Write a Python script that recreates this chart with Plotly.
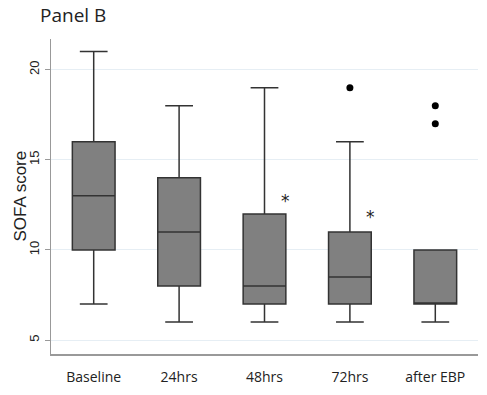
import plotly.graph_objects as go

categories = ["Baseline", "24hrs", "48hrs", "72hrs", "after EBP"]
lower_whisker = [7, 6, 6, 6, 6]
q1 = [10, 8, 7, 7, 7]
median = [13, 11, 8, 8.5, 7]
q3 = [16, 14, 12, 11, 10]
upper_whisker = [21, 18, 19, 16, 10]

outlier_x = ["72hrs", "after EBP", "after EBP"]
outlier_y = [19, 18, 17]

sig_x = ["48hrs", "72hrs"]
sig_y = [12.96, 12.04]
sig_text = ["*", "*"]

y_ticks = [5, 10, 15, 20]

fig = go.Figure()
fig.add_trace(go.Box(
    x=categories, q1=q1, median=median, q3=q3,
    lowerfence=lower_whisker, upperfence=upper_whisker,
    boxpoints=False, width=0.5, whiskerwidth=0.65,
    fillcolor="#808080", line=dict(color="#333333", width=1.5),
    showlegend=False, hoverinfo="skip",
))
fig.add_trace(go.Scatter(
    x=outlier_x, y=outlier_y, mode="markers",
    marker=dict(color="black", size=7), showlegend=False,
    hoverinfo="skip",
))
for sx, sy, st in zip(sig_x, sig_y, sig_text):
    fig.add_annotation(
        x=sx, y=sy, text=st, showarrow=False,
        xanchor="center", yanchor="middle", xshift=21, yshift=-4,
        font=dict(size=17, family="DejaVu Sans", color="#222222"),
    )

fig.add_annotation(
    text="SOFA score", textangle=-90, showarrow=False,
    xref="paper", yref="paper", x=(20 - 51) / 427, y=0.5,
    xanchor="center", yanchor="middle",
    font=dict(size=17, family="Liberation Sans", color="#222222"),
)

fig.update_layout(
    width=487, height=395,
    margin=dict(l=51, r=9, t=39, b=37),
    paper_bgcolor="white", plot_bgcolor="white",
    title=dict(text="Panel B", x=40/487, xref="container", xanchor="left",
               y=1 - 9/395, yref="container", yanchor="top",
               font=dict(size=19, family="Open Sans", color="#222222")),
)
fig.update_xaxes(
    type="category", range=[-0.5, 4.5],
    showline=True, linecolor="#999999", linewidth=1.5,
    showgrid=False, ticks="", mirror=False,
    tickfont=dict(size=14, family="Open Sans", color="#222222"),
    ticklabelstandoff=10,
)
fig.update_yaxes(
    range=[4.23, 21.7], tickvals=y_ticks, tickangle=-90,
    showline=True, linecolor="#999999", linewidth=1.5,
    showgrid=True, gridcolor="#e6eef4", gridwidth=1,
    ticks="outside", ticklen=5, tickcolor="#999999",
    zeroline=False, automargin=False,
    tickfont=dict(size=13, family="Liberation Sans", color="#222222"),
)

fig.write_html("out.html", post_script="document.body.style.margin='0px';",
               config={"displayModeBar": False, "staticPlot": True})
